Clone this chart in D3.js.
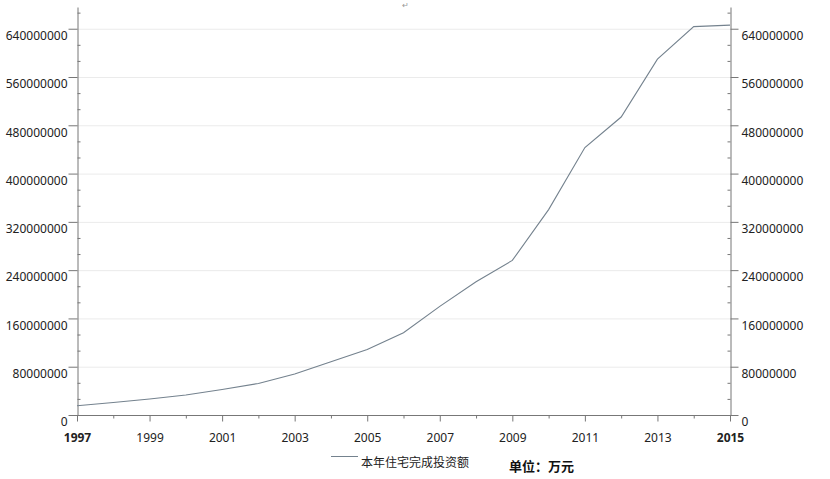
<!DOCTYPE html>
<html>
<head>
<meta charset="utf-8">
<script src="https://cdn.jsdelivr.net/npm/d3@7"></script>
<style>
  body { margin: 0; background: #fff; }
  text { font-family: "Noto Sans", "Liberation Sans", sans-serif; }
</style>
</head>
<body>
<div id="chart"></div>
<script>
// 1. The data (万元)
const years = d3.range(1997, 2016);
const investment = [
  15400000, 20800000, 26400000, 33100000, 42200000, 52300000, 67800000,
  88400000, 108600000, 136400000, 180000000, 220800000, 256100000,
  340300000, 443200000, 493700000, 589500000, 643500000, 646000000
];
const yTicks = d3.range(0, 640000001, 80000000);
const xTickLabels = d3.range(1997, 2016, 2);
const seriesName = "本年住宅完成投资额";
const unitText = "单位：万元";

// 2. Sizes
const WIDTH = 830;
const HEIGHT = 479;
const LEFT = 77, RIGHT = 730, BOTTOM = 415, TOP = 7;

const svg = d3.select("#chart")
  .append("svg")
  .attr("width", WIDTH)
  .attr("height", HEIGHT);

// 3. Scales
const x = d3.scaleLinear().domain([1997, 2015]).range([LEFT, RIGHT]);
const y = d3.scaleLinear().domain([0, 676000000]).range([BOTTOM, TOP]);

// gridlines
svg.append("g")
  .selectAll("line")
  .data(yTicks.slice(1))
  .enter()
  .append("line")
  .attr("x1", LEFT)
  .attr("x2", RIGHT)
  .attr("y1", d => y(d) + 0.5)
  .attr("y2", d => y(d) + 0.5)
  .attr("stroke", "#ebebeb");

// minor ticks every 80M / 3
const minorTicks = d3.range(0, 676000000, 80000000 / 3).filter((d, i) => i % 3 !== 0);

function styleAxis(g) {
  g.select(".domain").attr("stroke", "#777");
  g.selectAll(".tick line").attr("stroke", "#777");
  g.selectAll("text").attr("fill", "#222").attr("font-size", "12px");
}

// left axis
svg.append("g")
  .attr("transform", `translate(${LEFT + 0.5},0)`)
  .call(d3.axisLeft(y).tickValues(yTicks).tickFormat(d3.format("d")).tickSize(9).tickSizeOuter(0).tickPadding(1))
  .call(styleAxis)
  .call(g => g.selectAll("text").attr("dy", "0.32em").attr("transform", "translate(0,7)"));

svg.append("g")
  .attr("transform", `translate(${LEFT + 0.5},0)`)
  .call(d3.axisRight(y).tickValues(minorTicks).tickFormat("").tickSize(3).tickSizeOuter(0))
  .call(styleAxis)
  .call(g => g.select(".domain").remove());

// right axis
svg.append("g")
  .attr("transform", `translate(${RIGHT + 0.5},0)`)
  .call(d3.axisRight(y).tickValues(yTicks).tickFormat(d3.format("d")).tickSize(8).tickSizeOuter(0).tickPadding(3))
  .call(styleAxis)
  .call(g => g.selectAll("text").attr("transform", "translate(0,7)"));

svg.append("g")
  .attr("transform", `translate(${RIGHT + 0.5},0)`)
  .call(d3.axisLeft(y).tickValues(minorTicks).tickFormat("").tickSize(3).tickSizeOuter(0))
  .call(styleAxis)
  .call(g => g.select(".domain").remove());

// bottom axis
const xAxis = svg.append("g")
  .attr("transform", `translate(0,${BOTTOM + 0.5})`)
  .call(d3.axisBottom(x).tickValues(years).tickFormat(d => xTickLabels.includes(d) ? d : "")
    .tickSize(6).tickSizeOuter(0).tickPadding(12))
  .call(styleAxis);

xAxis.select(".domain").attr("d", `M${LEFT},0H${RIGHT + 3}`);
xAxis.selectAll(".tick line").attr("y2", d => xTickLabels.includes(d) ? 6 : 3);
xAxis.selectAll(".tick text")
  .attr("font-weight", d => (d === 1997 || d === 2015) ? "bold" : "normal");

// line
const line = d3.line()
  .x((d, i) => x(years[i]))
  .y(d => y(d));

svg.append("path")
  .datum(investment)
  .attr("d", line)
  .attr("fill", "none")
  .attr("stroke", "#74828e")
  .attr("stroke-width", 1.1);

// legend
svg.append("line")
  .attr("x1", 331).attr("x2", 358)
  .attr("y1", 456.5).attr("y2", 456.5)
  .attr("stroke", "#74828e");

svg.append("text")
  .attr("x", 361)
  .attr("y", 467)
  .attr("font-size", "12px")
  .attr("fill", "#222")
  .style("font-family", '"Noto Sans CJK SC", sans-serif')
  .text(seriesName);

svg.append("text")
  .attr("x", 509)
  .attr("y", 471)
  .attr("font-size", "13px")
  .attr("font-weight", "bold")
  .attr("fill", "#111")
  .style("font-family", '"Noto Sans CJK SC", sans-serif')
  .text(unitText);

// small return mark at the top
svg.append("text")
  .attr("x", 402)
  .attr("y", 8)
  .attr("font-size", "8px")
  .attr("fill", "#999")
  .text("↵");
</script>
</body>
</html>
